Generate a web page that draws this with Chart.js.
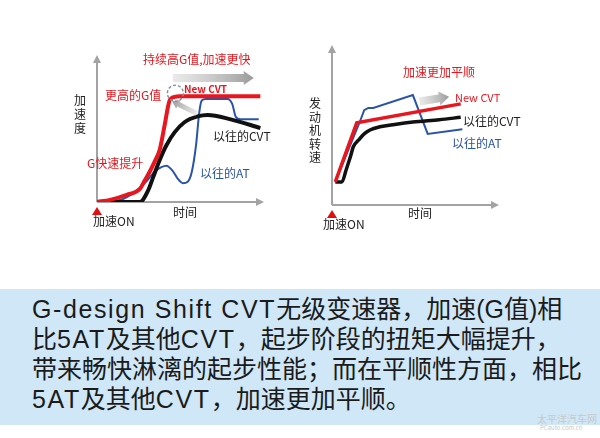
<!DOCTYPE html>
<html>
<head>
<meta charset="utf-8">
<script src="https://cdn.jsdelivr.net/npm/chart.js@4"></script>
<style>
body{margin:0;background:#fff;font-family:"Noto Sans CJK SC",sans-serif;}
#wrap{position:relative;width:600px;height:438px;overflow:hidden;}
canvas{position:absolute;top:0;}
.t{position:absolute;white-space:nowrap;font-size:12px;line-height:1;}
.red{color:#e8161e}
.blue{color:#2a54a8}
.blk{color:#222}
.v{width:14px;text-align:center;line-height:14px;white-space:normal;}
#cap{position:absolute;left:0;top:289px;width:600px;height:136px;background:#cfe7f7;}
.cl{position:absolute;left:32px;font-size:25px;color:#1b1b1b;white-space:nowrap;line-height:1;
    font-family:"Liberation Sans","Noto Sans CJK SC",sans-serif;}
.lat{letter-spacing:1.6px;}
.wm{position:absolute;color:#c9c9c9;white-space:nowrap;line-height:1;}
</style>
</head>
<body>
<div id="wrap">
  <canvas id="accel" width="300" height="240" style="left:0"></canvas>
  <canvas id="rpm" width="300" height="240" style="left:300px"></canvas>

  <!-- 左图 -->
  <div class="t red" style="left:143px;top:53px">持续高G值,加速更快</div>
  <div class="t red" style="left:105px;top:89px">更高的G值</div>
  <div class="t red" style="left:184px;top:84px;font-size:10px;font-weight:bold">New CVT</div>
  <div class="t blk v" style="left:73px;top:93px">加速度</div>
  <div class="t blk" style="left:213px;top:130px">以往的CVT</div>
  <div class="t red" style="left:87px;top:157px">G快速提升</div>
  <div class="t blue" style="left:200px;top:167px">以往的AT</div>
  <div class="t blk" style="left:173px;top:206px">时间</div>
  <div class="t blk" style="left:93px;top:215px">加速ON</div>

  <!-- 右图 -->
  <div class="t blk v" style="left:308px;top:96px;line-height:13.5px">发动机转速</div>
  <div class="t red" style="left:403px;top:66px">加速更加平顺</div>
  <div class="t red" style="left:455px;top:92px;font-size:11px">New CVT</div>
  <div class="t blk" style="left:463px;top:115px">以往的CVT</div>
  <div class="t blue" style="left:452px;top:137px">以往的AT</div>
  <div class="t blk" style="left:408px;top:207px">时间</div>
  <div class="t blk" style="left:323px;top:218px">加速ON</div>

  <div id="cap">
    <div class="cl" style="top:8px"><span class="lat">G-design Shift CVT</span>无级变速器，加速(G值)相</div>
    <div class="cl" style="top:38px">比<span class="lat">5AT</span>及其他<span class="lat">CVT</span>，起步阶段的扭矩大幅提升，</div>
    <div class="cl" style="top:68px">带来畅快淋漓的起步性能；而在平顺性方面，相比</div>
    <div class="cl" style="top:98px"><span class="lat">5AT</span>及其他<span class="lat">CVT</span>，加速更加平顺。</div>
  </div>
  <div class="wm" style="left:537px;top:414px;font-size:10px">太平洋汽车网</div>
  <div class="wm" style="left:540px;top:425px;font-size:6px">PCauto.com.cn</div>
</div>

<script>
// 左图：加速度 vs 时间
const accTime = {
  newCvt: [0, 8, 18, 26, 29, 32, 35, 38, 41, 44, 47, 50, 99],
  oldCvt: [0, 26, 31, 34, 38, 42, 47, 53, 61, 67, 81, 99],
  oldAt:  [0, 14, 23, 29, 35, 39, 42, 45.5, 49, 52, 55, 57.5, 60, 62, 63.5, 66, 79, 82, 84, 87, 98]
};
const accNewCvt = [0, 1.5, 5, 9, 15, 21, 28, 36, 53, 70, 72.5, 73, 73];
const accOldCvt = [0, 0, 8, 17, 29, 39, 48, 55, 59, 60, 57, 51];
const accOldAt  = [0, 1.4, 7, 13, 21, 24, 25, 22, 16, 13, 14, 21, 39, 62, 70, 71, 71, 67.5, 59, 57, 57];

// 右图：发动机转速 vs 时间
const rpmTime = {
  newCvt: [2, 15, 78],
  oldCvt: [2, 6, 8.5, 11, 13, 16, 19.5, 23, 29, 38, 49, 65, 78],
  oldAt:  [2, 17, 19.5, 22, 25, 49, 58, 79]
};
const rpmNewCvt = [14.6, 52, 64];
const rpmOldCvt = [14.6, 14.6, 22, 30, 37, 41, 45, 47.5, 49.5, 51, 52.5, 54, 55.5];
const rpmOldAt  = [14.6, 53, 60, 61.4, 61.4, 69.6, 45, 48];

const RED = '#e8161e', BLACK = '#111111', BLUE = '#2a54a8';

function pts(xs, ys) { return xs.map((x, i) => ({ x: x, y: ys[i] })); }

function grayArrow(ctx, x1, y1, x2, y2, body, head) {
  const ang = Math.atan2(y2 - y1, x2 - x1);
  const len = Math.hypot(x2 - x1, y2 - y1);
  ctx.save();
  ctx.translate(x1, y1);
  ctx.rotate(ang);
  const g = ctx.createLinearGradient(0, 0, len, 0);
  g.addColorStop(0, 'rgba(220,220,220,0.6)');
  g.addColorStop(1, '#9a9a9a');
  ctx.fillStyle = g;
  ctx.beginPath();
  ctx.moveTo(0, -body / 2);
  ctx.lineTo(len - head, -body / 2);
  ctx.lineTo(len - head, -head * 0.7);
  ctx.lineTo(len, 0);
  ctx.lineTo(len - head, head * 0.7);
  ctx.lineTo(len - head, body / 2);
  ctx.lineTo(0, body / 2);
  ctx.closePath();
  ctx.fill();
  ctx.restore();
}

const deco = {
  id: 'deco',
  beforeDatasetsDraw(chart, args, opts) {
    const { ctx, chartArea: a } = chart;
    ctx.save();
    ctx.strokeStyle = '#a3a3a3';
    ctx.fillStyle = '#a3a3a3';
    ctx.lineWidth = 2;
    ctx.beginPath();
    ctx.moveTo(a.left, a.bottom);
    ctx.lineTo(a.left, a.top + 4);
    ctx.moveTo(a.left, a.bottom);
    ctx.lineTo(a.right - 4, a.bottom);
    ctx.stroke();
    ctx.beginPath();
    ctx.moveTo(a.left, a.top - 2);
    ctx.lineTo(a.left - 4, a.top + 6);
    ctx.lineTo(a.left + 4, a.top + 6);
    ctx.fill();
    ctx.beginPath();
    ctx.moveTo(a.right + 2, a.bottom);
    ctx.lineTo(a.right - 6, a.bottom - 4);
    ctx.lineTo(a.right - 6, a.bottom + 4);
    ctx.fill();
    // 加速ON 红三角
    ctx.fillStyle = '#e01010';
    ctx.beginPath();
    ctx.moveTo(a.left, a.bottom + 5);
    ctx.lineTo(a.left - 5, a.bottom + 13);
    ctx.lineTo(a.left + 5, a.bottom + 13);
    ctx.fill();
    ctx.restore();
  },
  afterDatasetsDraw(chart, args, opts) {
    const { ctx, scales: { x, y } } = chart;
    (opts.arrows || []).forEach(ar => {
      grayArrow(ctx, x.getPixelForValue(ar[0]), y.getPixelForValue(ar[1]),
        x.getPixelForValue(ar[2]), y.getPixelForValue(ar[3]), ar[4], ar[5]);
    });
    if (opts.circle) {
      ctx.save();
      ctx.strokeStyle = '#7f93a3';
      ctx.lineWidth = 1.5;
      ctx.setLineDash([3, 2]);
      ctx.beginPath();
      ctx.arc(x.getPixelForValue(opts.circle[0]), y.getPixelForValue(opts.circle[1]), 8, 0, Math.PI * 2);
      ctx.stroke();
      ctx.restore();
    }
  }
};

function makeChart(id, series, pad, decoOpts) {
  return new Chart(id, {
    type: 'line',
    data: {
      datasets: series.map((s, i) => ({
        data: s.data,
        borderColor: s.color,
        borderWidth: s.width,
        pointRadius: 0,
        fill: false,
        tension: s.smooth ? 0.4 : 0,
        cubicInterpolationMode: s.smooth ? 'monotone' : 'default',
        order: i
      }))
    },
    options: {
      responsive: false,
      animation: false,
      layout: { padding: pad },
      scales: {
        x: { type: 'linear', min: 0, max: 100, display: false },
        y: { min: 0, max: 100, display: false }
      },
      plugins: { legend: { display: false }, tooltip: { enabled: false }, deco: decoOpts }
    },
    plugins: [deco]
  });
}

makeChart('accel', [
  { data: pts(accTime.newCvt, accNewCvt), color: RED, width: 4, smooth: true },
  { data: pts(accTime.oldCvt, accOldCvt), color: BLACK, width: 4, smooth: true },
  { data: pts(accTime.oldAt, accOldAt), color: BLUE, width: 2, smooth: true }
], { left: 97, top: 57, right: 38, bottom: 38 }, {
  arrows: [[46, 85.5, 95, 85.5, 8, 10], [60.5, 61, 45.5, 69.5, 5, 7]],
  circle: [47.5, 75]
});

makeChart('rpm', [
  { data: pts(rpmTime.newCvt, rpmNewCvt), color: RED, width: 3.5, smooth: false },
  { data: pts(rpmTime.oldCvt, rpmOldCvt), color: BLACK, width: 3.5, smooth: true },
  { data: pts(rpmTime.oldAt, rpmOldAt), color: BLUE, width: 2, smooth: false }
], { left: 32, top: 47, right: 103, bottom: 35 }, {
  arrows: [[53, 65.5, 71, 68.5, 8, 10]]
});
</script>
</body>
</html>
